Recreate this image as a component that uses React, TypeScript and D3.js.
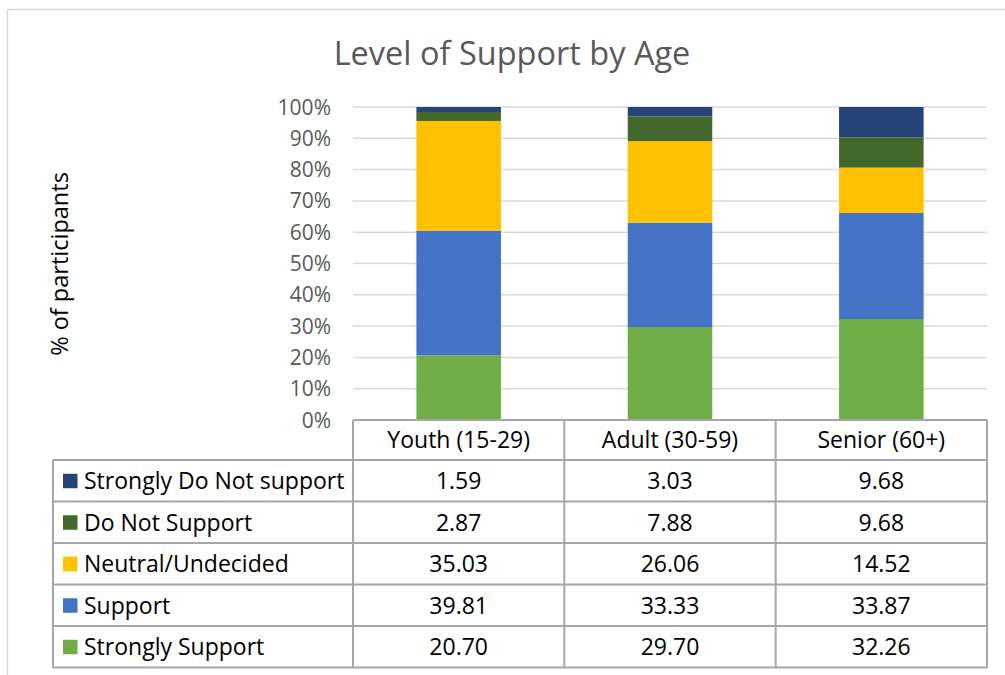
import React from "react";
import * as d3 from "d3";

const categories = ["Youth (15-29)", "Adult (30-59)", "Senior (60+)"];
const seriesNames = ["Strongly Support", "Support", "Neutral/Undecided", "Do Not Support", "Strongly Do Not support"];
const stronglySupport = [20.7, 29.7, 32.26];
const support = [39.81, 33.33, 33.87];
const neutral = [35.03, 26.06, 14.52];
const doNotSupport = [2.87, 7.88, 9.68];
const stronglyDoNot = [1.59, 3.03, 9.68];
const seriesColors = ["#70AD47", "#4472C4", "#FFC000", "#43682B", "#264478"];
const yTicks = [0, 0.1, 0.2, 0.3, 0.4, 0.5, 0.6, 0.7, 0.8, 0.9, 1.0];

const seriesValues = [stronglySupport, support, neutral, doNotSupport, stronglyDoNot];

const W = 1005, H = 675;
const plotLeft = 353, plotRight = 987, plotTop = 107, plotBottom = 420;
const legendLeft = 53;
const headerH = 40;
const rowH = 41.5;
const FONT = "'Open Sans', 'Noto Sans', sans-serif";

export default function App() {
  const x = d3.scaleBand<string>().domain(categories).range([plotLeft, plotRight]).paddingInner(0.6).paddingOuter(0.3);
  const xCol = d3.scaleBand<string>().domain(categories).range([plotLeft, plotRight]);
  const y = d3.scaleLinear().domain([0, 1]).range([plotBottom, plotTop]);

  const rows = categories.map((c, i) => {
    const o: any = { cat: c };
    seriesNames.forEach((s, j) => (o[s] = seriesValues[j][i]));
    return o;
  });
  const stacked = d3.stack<any>().keys(seriesNames).offset(d3.stackOffsetExpand)(rows);

  const tableOrder = [4, 3, 2, 1, 0];
  const tableTop = plotBottom + headerH;
  const tableBottom = tableTop + rowH * tableOrder.length;
  const borderColor = "#a6a6a6";
  const fs = 23;

  return (
    <svg width={W} height={H} style={{ position: "absolute", left: 0, top: 0, background: "#fff" }} fontFamily={FONT}>
      <rect x={0} y={0} width={W} height={H} fill="#fff" />
      <line x1={7.5} y1={9.5} x2={W} y2={9.5} stroke="#d9d9d9" strokeWidth={1.5} />
      <line x1={7.5} y1={9.5} x2={7.5} y2={H} stroke="#d9d9d9" strokeWidth={1.5} />

      <text x={512} y={65} textAnchor="middle" fontSize={32.5} fill="#595959">Level of Support by Age</text>

      {yTicks.map((t) => (
        <g key={t}>
          {t > 0 && <line x1={plotLeft} x2={plotRight} y1={y(t)} y2={y(t)} stroke="#d9d9d9" strokeWidth={1.5} />}
          <text x={331} y={y(t)} dy="0.36em" textAnchor="end" fontSize={21} fill="#595959">{`${Math.round(t * 100)}%`}</text>
        </g>
      ))}

      <text transform={`translate(68,264) rotate(-90)`} textAnchor="middle" fontSize={23.5} fill="#000">% of participants</text>

      {stacked.map((layer, j) => (
        <g key={layer.key} fill={seriesColors[j]}>
          {layer.map((d, i) => (
            <rect key={i} x={x(categories[i])} width={x.bandwidth()} y={y(d[1])} height={y(d[0]) - y(d[1])} />
          ))}
        </g>
      ))}

      <g stroke={borderColor} strokeWidth={2} fill="none">
        <line x1={plotLeft} x2={plotRight} y1={plotBottom} y2={plotBottom} />
        {[0, 1, 2, 3, 4, 5].map((k) => (
          <line key={k} x1={legendLeft} x2={plotRight} y1={tableTop + k * rowH} y2={tableTop + k * rowH} />
        ))}
        <line x1={legendLeft} x2={legendLeft} y1={tableTop} y2={tableBottom} />
        {categories.map((c) => (
          <line key={c} x1={xCol(c)} x2={xCol(c)} y1={plotBottom} y2={tableBottom} />
        ))}
        <line x1={plotRight} x2={plotRight} y1={plotBottom} y2={tableBottom} />
      </g>

      {categories.map((c) => (
        <text key={c} x={xCol(c)! + xCol.bandwidth() / 2} y={plotBottom + headerH / 2} dy="0.36em" textAnchor="middle" fontSize={fs} fill="#000">{c}</text>
      ))}

      {tableOrder.map((si, r) => {
        const cy = tableTop + r * rowH + rowH / 2;
        return (
          <g key={si}>
            <rect x={63} y={cy - 7} width={14.5} height={14.5} fill={seriesColors[si]} />
            <text x={84} y={cy} dy="0.36em" fontSize={fs} fill="#000">{seriesNames[si]}</text>
            {categories.map((c, i) => (
              <text key={c} x={xCol(c)! + xCol.bandwidth() / 2} y={cy} dy="0.36em" textAnchor="middle" fontSize={fs} fill="#000">
                {seriesValues[si][i].toFixed(2)}
              </text>
            ))}
          </g>
        );
      })}
    </svg>
  );
}
